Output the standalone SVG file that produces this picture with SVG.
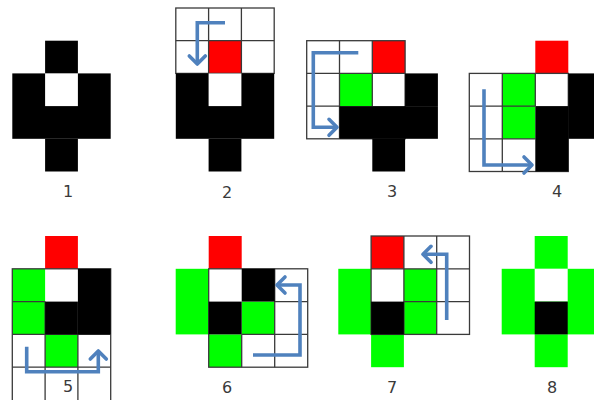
<svg xmlns="http://www.w3.org/2000/svg" width="594" height="400" viewBox="0 0 594 400">
<style>
.k{fill:#000}
.r{fill:#ff0000}
.g{fill:#00ff00}
.w{fill:#fff}
.grid{fill:none;stroke:#3a3a3a;stroke-width:1.3}
.lbl{font-family:"DejaVu Sans",sans-serif;font-size:16px;fill:#3a3a3a;text-anchor:middle}
.arr{fill:none;stroke:#4f81bd;stroke-width:3.6;stroke-linejoin:miter;marker-end:url(#ah)}
</style>
<defs>
<marker id="ah" viewBox="-12 -12 24 24" refX="0" refY="0" markerWidth="24" markerHeight="24" markerUnits="userSpaceOnUse" orient="auto">
<path d="M-8,-8 L0,0 L-8,8" fill="none" stroke="#4f81bd" stroke-width="3.6" stroke-linejoin="round" stroke-linecap="round"/>
</marker>
</defs>
<rect width="594" height="400" fill="#fff"/>

<g id="panel1">
<rect class="k" x="45.1" y="40.7" width="32.8" height="32.7"/>
<rect class="k" x="12.3" y="73.4" width="98.4" height="65.4"/>
<rect class="w" x="45.1" y="73.4" width="32.8" height="32.7"/>
<rect class="k" x="45.1" y="138.8" width="32.8" height="32.7"/>
<text class="lbl" x="68" y="197">1</text>
</g>

<g id="panel2">
<rect class="r" x="208.6" y="40.7" width="32.8" height="32.7"/>
<rect class="grid" x="175.8" y="8" width="98.4" height="65.4"/>
<path class="grid" d="M208.6,8V73.4M241.4,8V73.4M175.8,40.7H274.2"/>
<rect class="k" x="175.8" y="73.4" width="98.4" height="65.4"/>
<rect class="w" x="208.6" y="73.4" width="32.8" height="32.7"/>
<rect class="k" x="208.6" y="138.8" width="32.8" height="32.7"/>
<text class="lbl" x="227" y="198">2</text>
</g>

<g id="panel3">
<rect class="r" x="372.3" y="40.7" width="32.8" height="32.7"/>
<rect class="g" x="339.5" y="73.4" width="32.8" height="32.7"/>
<rect class="grid" x="306.7" y="40.7" width="98.4" height="98.1"/>
<path class="grid" d="M339.5,40.7V138.8M372.3,40.7V106.1M306.7,73.4H405.1M306.7,106.1H339.5"/>
<rect class="k" x="405.1" y="73.4" width="32.8" height="32.7"/>
<rect class="k" x="339.5" y="106.1" width="98.4" height="32.7"/>
<rect class="k" x="372.3" y="138.8" width="32.8" height="32.7"/>
<text class="lbl" x="392" y="197">3</text>
</g>

<g id="panel4">
<rect class="r" x="535.3" y="40.7" width="33" height="32.7"/>
<rect class="g" x="502.3" y="73.4" width="33" height="65.4"/>
<rect class="grid" x="469.3" y="73.4" width="99" height="98.1"/>
<path class="grid" d="M502.3,73.4V171.5M535.3,73.4V106.1M469.3,106.1H535.3M469.3,138.8H535.3"/>
<rect class="k" x="568.3" y="73.4" width="33" height="65.4"/>
<rect class="k" x="535.3" y="106.1" width="33" height="65.4"/>
<text class="lbl" x="557" y="197">4</text>
</g>

<g id="panel5">
<rect class="r" x="45.1" y="236" width="32.8" height="32.8"/>
<rect class="g" x="12.3" y="268.8" width="32.8" height="65.6"/>
<rect class="g" x="45.1" y="334.4" width="32.8" height="32.8"/>
<rect class="grid" x="12.3" y="268.8" width="98.4" height="132"/>
<path class="grid" d="M45.1,301.6V400M77.9,334.4V400M12.3,301.6H45.1M12.3,334.4H110.7M12.3,367.2H110.7"/>
<rect class="k" x="77.9" y="268.8" width="32.8" height="65.6"/>
<rect class="k" x="45.1" y="301.6" width="32.8" height="32.8"/>
<text class="lbl" x="68" y="392">5</text>
</g>

<g id="panel6">
<rect class="r" x="208.7" y="236" width="33" height="32.8"/>
<rect class="g" x="175.7" y="268.8" width="33" height="65.6"/>
<rect class="g" x="241.7" y="301.6" width="33" height="32.8"/>
<rect class="g" x="208.7" y="334.4" width="33" height="32.8"/>
<rect class="grid" x="208.7" y="268.8" width="99" height="98.4"/>
<path class="grid" d="M241.7,334.4V367.2M274.7,268.8V367.2M274.7,301.6H307.7M241.7,334.4H307.7"/>
<rect class="k" x="241.7" y="268.8" width="33" height="32.8"/>
<rect class="k" x="208.7" y="301.6" width="33" height="32.8"/>
<text class="lbl" x="227" y="393">6</text>
</g>

<g id="panel7">
<rect class="r" x="371.1" y="236" width="32.8" height="32.8"/>
<rect class="g" x="338.3" y="268.8" width="32.8" height="65.6"/>
<rect class="g" x="403.9" y="268.8" width="32.8" height="65.6"/>
<rect class="g" x="371.1" y="334.4" width="32.8" height="32.8"/>
<rect class="grid" x="371.1" y="236" width="98.4" height="98.4"/>
<path class="grid" d="M403.9,236V334.4M436.7,236V334.4M371.1,268.8H469.5M403.9,301.6H469.5"/>
<rect class="k" x="371.1" y="301.6" width="32.8" height="32.8"/>
<text class="lbl" x="392" y="393">7</text>
</g>

<g id="panel8">
<rect class="g" x="534.7" y="236" width="33" height="32.8"/>
<rect class="g" x="501.7" y="268.8" width="99" height="65.6"/>
<rect class="g" x="534.7" y="334.4" width="33" height="32.8"/>
<rect class="w" x="534.7" y="268.8" width="33" height="32.8"/>
<rect class="k" x="534.7" y="301.6" width="33" height="32.8"/>
<text class="lbl" x="552" y="393">8</text>
</g>

<g id="connectors">
<path class="arr" d="M225,22.7H197.3V64"/>
<path class="arr" d="M358.3,52.7H313.3V127.3H337"/>
<path class="arr" d="M484,89.3V165H532"/>
<path class="arr" d="M26.7,346.7V371.7H98.3V351"/>
<path class="arr" d="M253,355H300V285H277"/>
<path class="arr" d="M446.7,320V254.3H423"/>
</g>
</svg>
